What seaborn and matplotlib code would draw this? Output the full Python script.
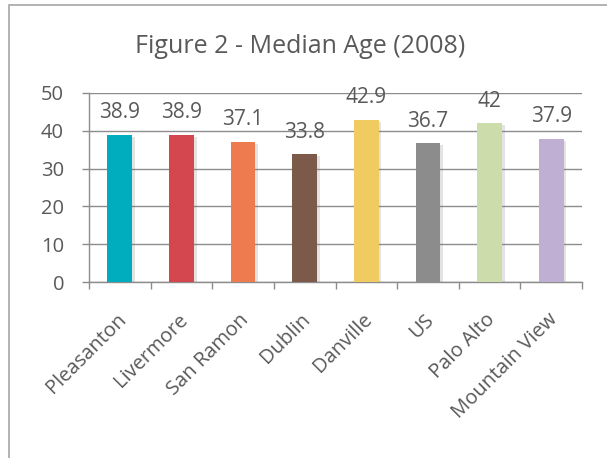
import matplotlib
matplotlib.use("Agg")
import matplotlib.pyplot as plt
import matplotlib.patheffects as pe
import matplotlib.transforms as mtrans
from matplotlib.patches import Rectangle
import seaborn as sns
import pandas as pd

cities = ["Pleasanton", "Livermore", "San Ramon", "Dublin", "Danville",
          "US", "Palo Alto", "Mountain View"]
median_age = [38.9, 38.9, 37.1, 33.8, 42.9, 36.7, 42, 37.9]
bar_colors = ["#00ADBF", "#D5474F", "#EE7B50", "#7B5A4A", "#EFCB62",
              "#8C8C8C", "#CCDCAA", "#BFB0D3"]
y_ticks = [0, 10, 20, 30, 40, 50]

sns.set_theme(style="white")
plt.rcParams["font.family"] = ["Open Sans", "DejaVu Sans"]
text_color = "#595959"
line_color = "#8C8C8C"

df = pd.DataFrame({"city": cities, "age": median_age})

fig = plt.figure(figsize=(6.07, 4.58), dpi=100)
ax = fig.add_axes([89 / 607, 1 - 282 / 458, (582 - 89) / 607, (282 - 93) / 458])

sns.barplot(data=df, x="city", y="age", hue="city", palette=bar_colors,
            legend=False, width=0.4, ax=ax, saturation=1, zorder=3,
            linewidth=0)

for bar in ax.patches:
    bar.set_path_effects([pe.SimplePatchShadow(offset=(2, -1.5), shadow_rgbFace="#777777",
                                               alpha=0.2),
                          pe.Normal()])

for i, v in enumerate(median_age):
    ax.text(i, v + 4.4, f"{v:g}", ha="center", va="baseline", fontsize=15,
            color=text_color)

ax.set_ylim(0, 50)
ax.set_xlim(-0.5, len(cities) - 0.5)
ax.set_yticks(y_ticks)
ax.yaxis.grid(True, color=line_color, linewidth=1)
ax.set_axisbelow(True)
ax.set_xlabel("")
ax.set_ylabel("")

for side in ["top", "right"]:
    ax.spines[side].set_visible(False)
for side in ["left", "bottom"]:
    ax.spines[side].set_color(line_color)
    ax.spines[side].set_linewidth(1)

ax.tick_params(axis="y", which="major", length=5, width=1, color=line_color,
               labelsize=14.5, labelcolor=text_color, pad=13, left=True)
ax.set_xticks(range(len(cities)))
ax.set_xticklabels(cities, rotation=45, ha="right", rotation_mode="anchor")
ax.tick_params(axis="x", which="major", length=0, labelsize=14.5,
               labelcolor=text_color, pad=20)
shift = mtrans.ScaledTranslation(-4 / 100, 0, fig.dpi_scale_trans)
for lbl in ax.get_xticklabels():
    lbl.set_transform(lbl.get_transform() + shift)
ax.set_xticks([i - 0.5 for i in range(len(cities) + 1)], minor=True)
ax.tick_params(axis="x", which="minor", length=5, width=1, color=line_color,
               bottom=True)

fig.text(300 / 607, 1 - 53 / 458, "Figure 2 - Median Age (2008)",
         ha="center", va="baseline", fontsize=18, color=text_color)

fig.patches.append(Rectangle((9 / 607, -0.1), 1.2, 1 - 5 / 458 + 0.1,
                             transform=fig.transFigure, fill=False,
                             edgecolor="#A6A6A6", linewidth=1.2))

fig.savefig("out.png", dpi=100)
